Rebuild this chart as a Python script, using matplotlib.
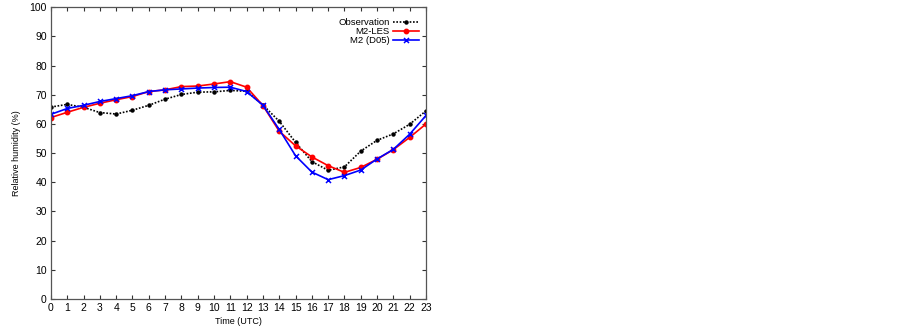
import matplotlib
matplotlib.use("Agg")
import matplotlib.pyplot as plt
import numpy as np

# hours (UTC)
hours = list(range(24))

# relative humidity (%)
obs = [65.8, 66.7, 65.7, 63.9, 63.4, 64.7, 66.4, 68.5, 70.1, 70.9, 71.0, 71.5,
       71.2, 66.5, 60.9, 53.7, 47.1, 44.1, 45.3, 50.7, 54.4, 56.6, 59.9, 64.5]
les = [62.2, 64.0, 65.7, 67.1, 68.3, 69.4, 71.1, 71.7, 72.8, 73.0, 73.7, 74.5,
       72.6, 66.3, 57.5, 52.5, 48.7, 45.7, 43.4, 45.1, 47.9, 51.2, 55.4, 60.0]
d05 = [63.3, 65.3, 66.4, 67.7, 68.7, 69.7, 71.1, 71.7, 72.0, 72.3, 72.5, 72.6,
       71.1, 66.4, 58.1, 49.1, 43.5, 40.9, 42.3, 44.2, 48.0, 51.3, 56.5, 62.9]

plt.rcParams['font.family'] = ['Liberation Sans', 'DejaVu Sans']

fig = plt.figure(figsize=(9.02, 3.3), dpi=100)
ax = fig.add_axes([0.0565, 0.094, 0.4158, 0.884])

ax.plot(hours, obs, color='black', linestyle=(0, (1, 1)), linewidth=1.2,
        marker='o', markersize=2.2, label='Observation')
ax.plot(hours, les, color='red', linestyle='-', linewidth=1.2,
        marker='o', markersize=3.2, label='M2-LES')
ax.plot(hours, d05, color='blue', linestyle='-', linewidth=1.2,
        marker='x', markersize=3.6, markeredgewidth=1.1, label='M2 (D05)')

ax.set_xlim(0, 23)
ax.set_ylim(0, 100)
ax.set_xticks(hours)
ax.set_yticks(np.arange(0, 101, 10))
ax.tick_params(direction='in', top=True, right=True, length=3, width=0.8,
               labelsize=7.5, colors='#333333', labelcolor='black', pad=3)
for s in ax.spines.values():
    s.set_color('#555555')
    s.set_linewidth(0.9)

ax.set_xlabel('Time (UTC)', fontsize=6.5, labelpad=3)
ax.set_ylabel('Relative humidity (%)', fontsize=6.5, labelpad=6)

leg = ax.legend(loc='upper right', markerfirst=False, frameon=False,
                fontsize=6.8, handlelength=2.7, handletextpad=0.4,
                labelspacing=0.0, borderaxespad=0.35,
                bbox_to_anchor=(1.0, 0.987))
for t in leg.get_texts():
    t.set_ha('right')
leg._legend_box.align = 'right'

fig.savefig('out.png', dpi=100)
